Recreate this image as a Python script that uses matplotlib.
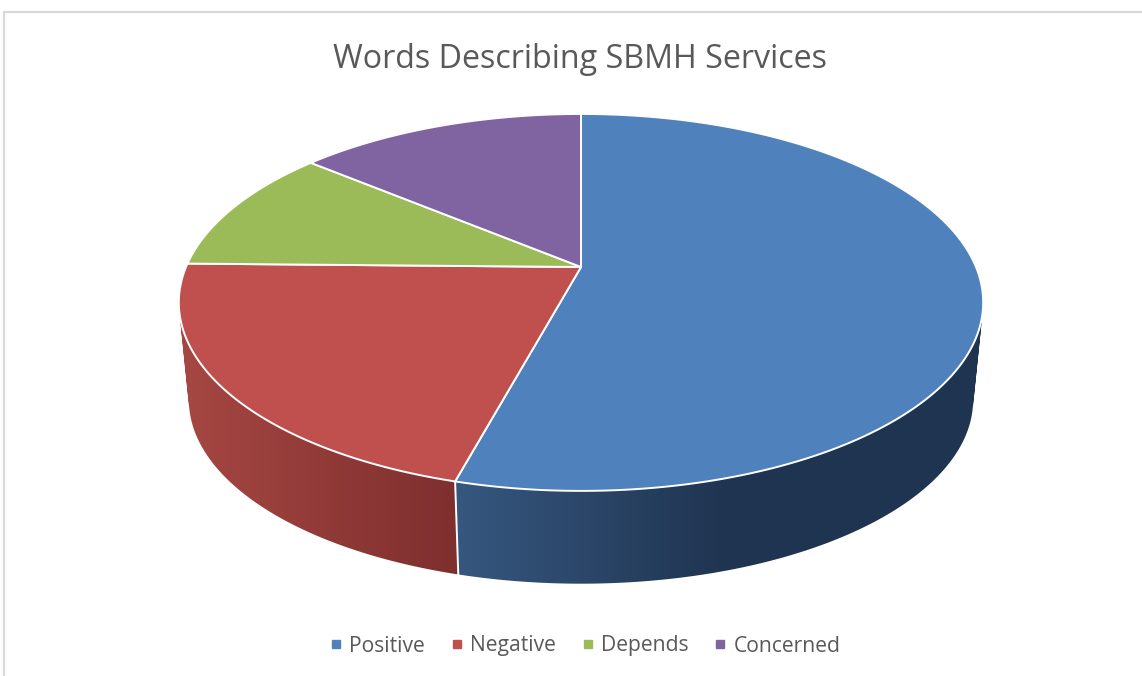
import numpy as np
import matplotlib
matplotlib.use("Agg")
import matplotlib.pyplot as plt
from matplotlib.colors import LinearSegmentedColormap
from matplotlib.lines import Line2D
from matplotlib.patches import PathPatch
from matplotlib.path import Path

# shares in percent
labels = ["Positive", "Negative", "Depends", "Concerned"]
values = [54.2, 21.1, 10.8, 13.9]
colors = ["#4f81bd", "#c0504d", "#9bbb59", "#8064a2"]

# wall shading: x pixel left, color left, x pixel right, color right
wall_shade = [
    (456, "#36577f", 730, "#1f3450"),
    (181, "#a64743", 456, "#7e2f2e"),
    (181, "#a64743", 456, "#7e2f2e"),
    (181, "#a64743", 456, "#7e2f2e"),
]

plt.rcParams["font.family"] = ["Open Sans", "DejaVu Sans"]
text_col = "#595959"

fig = plt.figure(figsize=(11.42, 6.76), dpi=100)
ax = fig.add_axes([0, 0, 1, 1])
ax.set_xlim(0, 1142)
ax.set_ylim(676, 0)
ax.axis("off")

# chart frame, only top and left are inside the crop
ax.plot([4, 4, 1142], [676, 12, 12], color="#d9d9d9", lw=1.6, solid_joinstyle="miter")

# perspective projection of the pie disc
CX, CY = 581, 267
R, A, K = 395, 181.8, 0.188
ELL_Y = 302.5


def top_pt(ang):
    u, v = np.sin(ang), -np.cos(ang)
    s = 1 / (1 - K * v)
    return CX + R * u * s, CY + A * v * s


def bottom_pt(ang):
    x, y = top_pt(ang)
    return CX + 0.975 * (x - CX), 400 + 0.975 * (y - ELL_Y)


edges = np.cumsum([0] + values) / sum(values) * 2 * np.pi

# side walls, a horizontal gradient clipped to the wall quads (back part is hidden anyway)
for i in range(len(values)):
    a0 = max(edges[i], np.pi / 2 - 0.5)
    a1 = min(edges[i + 1], 3 * np.pi / 2 + 0.5)
    if a1 <= a0:
        continue
    th = np.linspace(a0, a1, 300)
    tx, ty = top_pt(th)
    bx, by = bottom_pt(th)
    verts, codes = [], []
    for j in range(len(th) - 1):
        quad = [(tx[j], ty[j]), (tx[j + 1], ty[j + 1]), (bx[j + 1], by[j + 1]), (bx[j], by[j])]
        qx, qy = np.array(quad).T
        if np.dot(qx, np.roll(qy, -1)) - np.dot(qy, np.roll(qx, -1)) < 0:
            quad = quad[::-1]
        verts += quad + [quad[0]]
        codes += [Path.MOVETO, Path.LINETO, Path.LINETO, Path.LINETO, Path.CLOSEPOLY]
    x0, c0, x1, c1 = wall_shade[i]
    cmap = LinearSegmentedColormap.from_list("wall", [c0, c1])
    xs = np.arange(0, 1142) + 0.5
    grad = np.clip((xs - x0) / (x1 - x0), 0, 1)[None, :]
    im = ax.imshow(grad, cmap=cmap, vmin=0, vmax=1, extent=(0, 1142, 676, 0), aspect="auto",
                   interpolation="nearest", zorder=2)
    patch = PathPatch(Path(verts, codes), transform=ax.transData, fc="none", ec="none")
    ax.add_patch(patch)
    im.set_clip_path(patch)
ax.set_xlim(0, 1142)
ax.set_ylim(676, 0)

# white seam on the wall between Positive and Negative
tx, ty = top_pt(edges[1])
bx, by = bottom_pt(edges[1])
ax.plot([tx, bx], [ty, by], color="white", lw=1.4, zorder=3)

# top face
for i in range(len(values)):
    th = np.linspace(edges[i], edges[i + 1], 300)
    x, y = top_pt(th)
    ax.fill(np.r_[CX, x], np.r_[CY, y], facecolor=colors[i], edgecolor="white", lw=1.4, zorder=4, joinstyle="round")

ax.text(580, 59.5, "Words Describing SBMH Services", ha="center", va="center", fontsize=23.25, color=text_col)

handles = [Line2D([], [], ls="", marker="s", ms=5.2, color=c) for c in colors]
ax.legend(handles, labels, ncol=4, loc="center", bbox_to_anchor=(583, 646), bbox_transform=ax.transData,
          frameon=False, fontsize=15.2, labelcolor=text_col, columnspacing=1.0, handletextpad=0.14,
          handlelength=1.0)

fig.savefig("out.png", dpi=100)
